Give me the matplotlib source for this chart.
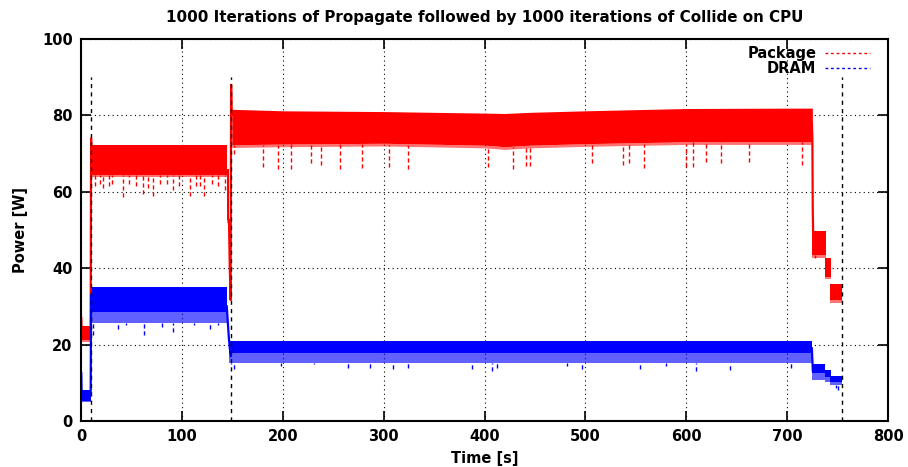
import matplotlib
matplotlib.use("Agg")
import matplotlib.pyplot as plt
from matplotlib.lines import Line2D

# ---------------- data ----------------
title = "1000 Iterations of Propagate followed by 1000 iterations of Collide on CPU"
xlabel = "Time [s]"
ylabel = "Power [W]"
xticks = [0, 100, 200, 300, 400, 500, 600, 700, 800]
yticks = [0, 20, 40, 60, 80, 100]
marker_times = [10, 149, 754]
marker_top = 90

# Package: long phase band read at several times
pkg_main_t = [149.5, 200, 300, 400, 420, 445, 500, 600, 700, 725]
pkg_main_low = [72.3, 72.5, 72.7, 72.2, 71.8, 72.2, 72.6, 73.1, 73.1, 73.1]
pkg_main_high = [81.6, 81.2, 81.0, 80.6, 80.5, 80.8, 81.2, 81.8, 81.9, 81.9]
# Package: short phases (start, end, low, high)
pkg_seg_start = [0.5, 10, 144.4, 725, 737.4, 742.5]
pkg_seg_end = [9.5, 144.4, 146.7, 739, 743, 754]
pkg_seg_low = [21.3, 64.5, 52.6, 43.5, 37.8, 31.7]
pkg_seg_high = [24.8, 72.3, 66.0, 49.8, 42.6, 35.9]
pkg_fringe = 0.7
# Package transitions
pkg_tr1_t = [146.7, 147.5, 148.3, 148.8, 149.3, 149.6]
pkg_tr1_v = [52.6, 40.0, 31.7, 88.0, 80.0, 81.0]
pkg_tr2_t = [724.5, 725.0, 725.4, 725.8]
pkg_tr2_v = [78.0, 74.0, 55.0, 49.0]
pkg_tr0_t = [0.3, 0.6, 9.6, 10.0, 10.4]
pkg_tr0_v = [27.0, 24.0, 24.0, 74.0, 70.0]
# Package downward spikes (time, lowest value)
pkg_spike_t = [14, 19, 22, 28, 31, 42, 48, 55, 61, 66, 71, 78, 85, 91, 97, 108,
               114, 118, 122, 130, 136, 143,
               152, 180, 195, 208, 228, 238, 257, 279, 305, 324, 403, 428, 441,
               445, 507, 537, 543, 558, 600, 607, 620, 634, 662, 715, 728]
pkg_spike_low = [61.5, 62.0, 61.0, 61.5, 62.0, 58.6, 62.0, 61.5, 59.4, 61.0, 58.8,
                 62.0, 62.0, 60.5, 61.5, 59.0, 61.5, 61.5, 59.0, 62.0, 61.5, 60.5,
                 70.0, 66.5, 65.9, 66.0, 67.5, 67.0, 66.0, 66.2, 66.5, 66.0, 66.5,
                 66.0, 66.8, 66.8, 67.5, 67.0, 67.5, 66.3, 66.5, 66.5, 67.8, 67.5,
                 67.7, 67.0, 42.6]

# DRAM: band phases (start, end, low, high) and speckled zone below
dram_seg_start = [0.5, 10, 146.5, 725, 738, 742.5]
dram_seg_end = [9.5, 145, 725, 738, 743, 754]
dram_seg_low = [5.2, 28.6, 17.8, 12.5, 11.5, 10.3]
dram_seg_high = [8.0, 35.1, 20.9, 14.9, 13.4, 11.9]
dram_speckle_low = [5.0, 25.7, 15.3, 10.7, 10.3, 9.4]
# DRAM transitions
dram_tr1_t = [144.5, 145.5, 146.5, 147.5, 148.5]
dram_tr1_v = [30.0, 26.0, 22.0, 19.0, 17.0]
dram_tr2_t = [724.5, 725.0, 725.5, 726.0]
dram_tr2_v = [19.0, 16.0, 13.0, 13.5]
dram_tr0_t = [0.3, 0.6, 9.6, 10.0, 10.4]
dram_tr0_v = [12.5, 7.0, 7.0, 33.0, 31.0]
# DRAM downward spikes
dram_spike_t = [12, 37, 45, 62, 80, 91, 112, 128, 136,
                149, 152, 198, 231, 265, 286, 309, 324, 388, 407, 412, 482, 497,
                554, 580, 610, 643, 704, 748, 750]
dram_spike_low = [22.5, 24.0, 25.0, 22.5, 24.5, 23.3, 25.0, 24.0, 25.0,
                  15.0, 13.6, 14.5, 15.0, 13.9, 13.9, 13.6, 14.0, 13.5, 13.2, 14.0,
                  14.5, 13.5, 13.6, 14.3, 13.2, 13.4, 14.0, 8.6, 8.1]

series_names = ["Package", "DRAM"]
pkg_color = "#ff0000"
dram_color = "#0000ff"

# ---------------- figure ----------------
plt.rcParams['font.family'] = ['DejaVu Sans']
fig = plt.figure(figsize=(9.08, 4.67), dpi=100)
ax = fig.add_axes([0.0892, 0.0985, 0.8888, 0.818])

ax.set_xlim(0, 800)
ax.set_ylim(0, 100)
ax.set_xticks(xticks)
ax.set_yticks(yticks)
ax.grid(True, color="black", linestyle=(0, (1, 3)), linewidth=0.8)
ax.set_axisbelow(True)

dash = (0, (3, 2))

# package bands
ax.fill_between(pkg_main_t, [v - pkg_fringe for v in pkg_main_low], pkg_main_low,
                color=pkg_color, alpha=0.55, lw=0, zorder=3)
ax.fill_between(pkg_main_t, pkg_main_low, pkg_main_high, color=pkg_color, lw=0, zorder=3)
for s, e, lo, hi in zip(pkg_seg_start, pkg_seg_end, pkg_seg_low, pkg_seg_high):
    ax.fill_between([s, e], [lo - pkg_fringe] * 2, [lo, lo], color=pkg_color,
                    alpha=0.55, lw=0, zorder=3)
    ax.fill_between([s, e], [lo, lo], [hi, hi], color=pkg_color, lw=0, zorder=3)

# dram bands
for s, e, lo, hi, ul in zip(dram_seg_start, dram_seg_end, dram_seg_low,
                            dram_seg_high, dram_speckle_low):
    ax.fill_between([s, e], [ul, ul], [lo, lo], color=dram_color, alpha=0.62, lw=0, zorder=3)
    ax.fill_between([s, e], [lo, lo], [hi, hi], color=dram_color, lw=0, zorder=3)

for tt, vv in [(pkg_tr0_t, pkg_tr0_v), (pkg_tr1_t, pkg_tr1_v), (pkg_tr2_t, pkg_tr2_v)]:
    ax.plot(tt, vv, color=pkg_color, lw=1.6, zorder=4)
for tt, vv in [(dram_tr0_t, dram_tr0_v), (dram_tr1_t, dram_tr1_v), (dram_tr2_t, dram_tr2_v)]:
    ax.plot(tt, vv, color=dram_color, lw=1.6, zorder=4)

# spikes: from band bottom down to the spike value
def pkg_low_at(t):
    if pkg_main_t[0] <= t <= pkg_main_t[-1]:
        for i in range(len(pkg_main_t) - 1):
            if pkg_main_t[i] <= t <= pkg_main_t[i + 1]:
                return min(pkg_main_low[i], pkg_main_low[i + 1])
    for s, e, lo in zip(pkg_seg_start, pkg_seg_end, pkg_seg_low):
        if s <= t <= e:
            return lo
    return pkg_seg_low[-1]

def dram_low_at(t):
    for s, e, lo in zip(dram_seg_start, dram_seg_end, dram_speckle_low):
        if s <= t <= e:
            return lo
    return dram_speckle_low[-1]

for t, lo in zip(pkg_spike_t, pkg_spike_low):
    ax.vlines(t, lo, pkg_low_at(t), color=pkg_color, lw=1.0, linestyles=[dash], zorder=3)
for t, lo in zip(dram_spike_t, dram_spike_low):
    ax.vlines(t, lo, dram_low_at(t), color=dram_color, lw=1.0, linestyles=[dash], zorder=3)

# phase markers
for t in marker_times:
    ax.vlines(t, 0, marker_top, color="black", lw=1.0, linestyles=[(0, (3, 3))], zorder=5)

# axes styling (gnuplot look)
for sp in ax.spines.values():
    sp.set_linewidth(1.5)
    sp.set_zorder(6)
ax.tick_params(direction="in", length=7, width=1.2, top=True, right=True,
               labelsize=10.5, pad=6)
for lbl in ax.get_xticklabels() + ax.get_yticklabels():
    lbl.set_fontweight("bold")

ax.set_title(title, fontsize=10.9, fontweight="bold", pad=12)
ax.set_xlabel(xlabel, fontsize=10.5, fontweight="bold", labelpad=5)
ax.set_ylabel(ylabel, fontsize=10.5, fontweight="bold", labelpad=10)

handles = [Line2D([], [], color=pkg_color, lw=1, ls=(0, (2, 2))),
           Line2D([], [], color=dram_color, lw=1, ls=(0, (2, 2)))]
leg = ax.legend(handles, series_names, loc="upper right", frameon=False,
                bbox_to_anchor=(0.985, 0.997), borderaxespad=0.0,
                markerfirst=False, handlelength=3.1, fontsize=10.5,
                labelspacing=0.0, handletextpad=0.6)
for txt in leg.get_texts():
    txt.set_fontweight("bold")
leg.set_zorder(7)

fig.savefig("out.png", dpi=100)
